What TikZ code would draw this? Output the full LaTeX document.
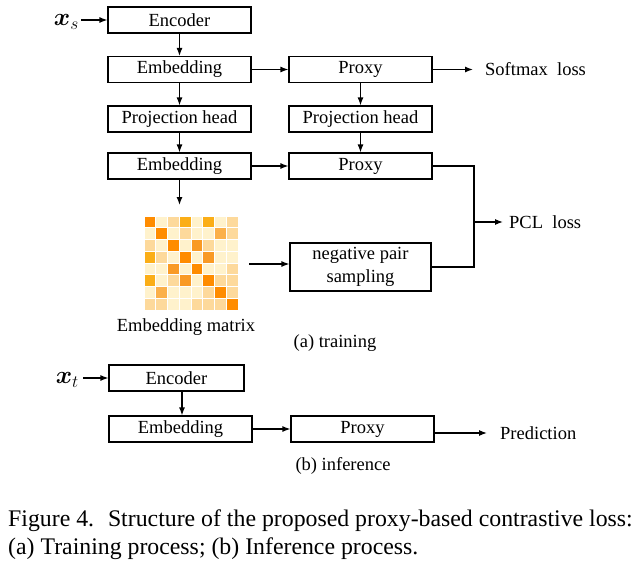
\documentclass[tikz,border=0pt]{standalone}
\usepackage{fontspec}
\usepackage{bm}
\setmainfont{Liberation Serif}
\usetikzlibrary{arrows.meta}
\definecolor{matc}{HTML}{FFF2CC}
\definecolor{matl}{HTML}{FDD99B}
\definecolor{matm}{HTML}{FBB04A}
\definecolor{matd}{HTML}{FF8C00}
\definecolor{matk}{HTML}{F99A25}
\definecolor{maty}{HTML}{FBAE17}
\begin{document}
\begin{tikzpicture}[x=1pt,y=-1pt,
  box/.style={draw, line width=1.2pt, minimum width=143pt, minimum height=26pt, inner sep=0pt, font=\fontsize{18.5}{23}\selectfont},
  lbl/.style={inner sep=0pt, font=\fontsize{18.5}{23}\selectfont},
  varlbl/.style={inner sep=0pt, anchor=east, font=\fontsize{26}{30}\selectfont},
  captxt/.style={inner sep=0pt, anchor=west, font=\fontsize{23.8}{28}\selectfont},
  arr/.style={-{Latex[length=8pt,width=6pt]}, line width=1.2pt},
  ln/.style={line width=1.2pt}]
\fill[white] (0,0) rectangle (640,570);
\useasboundingbox (0,0) rectangle (640,570);
% training
\node[box] (enc) at (179.5,20) {Encoder};
\node[box] (emb1) at (179.5,69.5) {Embedding};
\node[box] (proj1) at (179.5,119) {Projection head};
\node[box] (emb2) at (179.5,166) {Embedding};
\node[box] (prox1) at (360.5,69.5) {Proxy};
\node[box] (proj2) at (360.5,119) {Projection head};
\node[box] (prox2) at (360.5,166) {Proxy};
\node[box, minimum width=141pt, minimum height=48pt, align=center] (neg) at (360.5,267) {negative pair\\sampling};
\node[varlbl] (xsrc) at (79,22) {$\bm{x}_s$};
\node[lbl, anchor=west] (sm) at (485,69.5) {Softmax~ loss};
\node[lbl, anchor=west] (pcl) at (509,222) {PCL~ loss};
\node[lbl] (mlbl) at (186,327) {Embedding matrix};
\node[lbl] (capa) at (335,343) {(a) training};
% matrix
\node[minimum size=94pt, inner sep=0pt] (mat) at (191,263) {};
\foreach \row [count=\i from 0] in {{d,c,l,y,c,y,c,l},{c,d,c,l,c,c,m,l},{l,c,d,c,k,l,c,c},{y,l,c,d,c,k,c,c},{c,c,k,c,d,c,c,l},{y,c,l,k,c,d,l,l},{c,m,c,c,c,l,d,l},{l,l,c,c,l,l,l,d}}{
  \foreach \col [count=\j from 0] in \row {
    \fill[mat\col] (144.5+\j*11.75, 216.5+\i*11.75) rectangle ++(10.75,10.75);
  }
}
% arrows training
\coordinate (xsend) at (81,20);
\draw[arr] (xsend) -- (enc.west);
\draw[arr] (enc) -- (emb1);
\draw[arr] (emb1) -- (proj1);
\draw[arr] (proj1) -- (emb2);
\draw[arr] (emb1) -- (prox1);
\draw[arr] (prox1) -- (proj2);
\draw[arr] (proj2) -- (prox2);
\draw[arr] (emb2) -- (prox2);
\coordinate (embtip) at (180,205);
\draw[arr] (emb2.south) -- (emb2.south |- embtip);
\coordinate (matout) at (249,264);
\draw[arr] (matout) -- (matout -| neg.west);
\coordinate (bus) at (474,222);
\draw[ln] (prox2.east) -| (bus) |- (neg.east);
\draw[arr] (bus) -- ([xshift=-6pt]pcl.west);
\draw[arr] (prox1) -- ([xshift=-12pt]sm.west);
% inference
\node[box, minimum width=135pt] (encb) at (176.5,378) {Encoder};
\node[box] (embb) at (180.5,429) {Embedding};
\node[box] (proxb) at (362.5,429) {Proxy};
\node[varlbl] (xtest) at (79,380) {$\bm{x}_t$};
\node[lbl, anchor=west] (pred) at (500,433) {Prediction};
\node[lbl] (capb) at (343,466) {(b) inference};
\coordinate (xtend) at (83,378);
\draw[arr] (xtend) -- (encb.west);
\coordinate (vx) at (182,0);
\draw[arr] (encb.south -| vx) -- (embb.north -| vx);
\draw[arr] (embb) -- (proxb);
\draw[arr] ([yshift=-4pt]proxb.east) -- ([xshift=-13pt]pred.west);
% caption
\node[captxt] (c1) at (8,521) {Figure 4.~ Structure of the proposed proxy-based contrastive loss:};
\node[captxt] (c2) at (8,549) {(a) Training process; (b) Inference process.};
\end{tikzpicture}
\end{document}
